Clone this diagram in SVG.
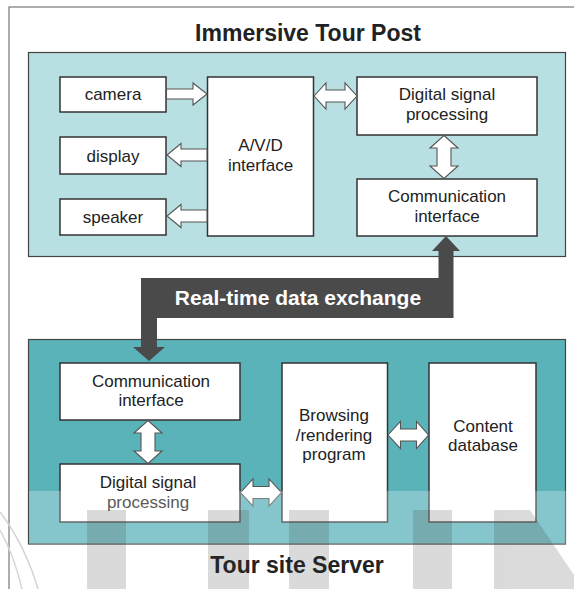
<svg xmlns="http://www.w3.org/2000/svg" width="574" height="589" viewBox="0 0 574 589">
<style>
.frame{fill:#fff;stroke:#777;stroke-width:1.2}
.panelTop{fill:#b8e0e2;stroke:#444;stroke-width:1.2}
.panelBot{fill:#5bb3ba;stroke:#444;stroke-width:1.2}
.box{fill:#fff;stroke:#333;stroke-width:1.5}
.hollow{fill:#fff;stroke:#555;stroke-width:1.1;stroke-linejoin:miter}
.lbl{font-family:"Liberation Sans",Arial,sans-serif;font-size:17px;fill:#222;text-anchor:middle}
.title{font-family:"Liberation Sans",Arial,sans-serif;font-size:23px;font-weight:bold;fill:#222;text-anchor:middle}
.band{font-family:"Liberation Sans",Arial,sans-serif;font-size:21px;font-weight:bold;fill:#fff;text-anchor:middle}
</style>
<rect class="frame" x="9" y="7" width="575" height="600"/>
<text class="title" x="308" y="41">Immersive Tour Post</text>
<rect id="post" class="panelTop" x="28.5" y="52.5" width="537" height="204"/>
<rect id="server" class="panelBot" x="28.5" y="339.5" width="537" height="204.5"/>

<g id="camera"><rect class="box" x="60" y="77" width="106" height="35"/><text class="lbl" x="113" y="100">camera</text></g>
<g id="display"><rect class="box" x="60" y="137" width="106" height="37"/><text class="lbl" x="113" y="161.5">display</text></g>
<g id="speaker"><rect class="box" x="60" y="199" width="106" height="36"/><text class="lbl" x="113" y="223">speaker</text></g>
<g id="avd"><rect class="box" x="207.5" y="77" width="106" height="159"/><text class="lbl" x="260.5" y="151">A/V/D</text><text class="lbl" x="260.5" y="170.5">interface</text></g>
<g id="dsp-top"><rect class="box" x="357" y="77" width="180" height="58"/><text class="lbl" x="447" y="100.25">Digital signal</text><text class="lbl" x="447" y="119.75">processing</text></g>
<g id="comm-top"><rect class="box" x="357" y="179" width="180" height="57"/><text class="lbl" x="447" y="202.25">Communication</text><text class="lbl" x="447" y="221.75">interface</text></g>

<g id="comm-bot"><rect class="box" x="60" y="363" width="180" height="57"/><text class="lbl" x="151" y="386.75">Communication</text><text class="lbl" x="151" y="406.25">interface</text></g>
<g id="dsp-bot"><rect class="box" x="60" y="464" width="180" height="58"/><text class="lbl" x="148" y="488.25">Digital signal</text><text class="lbl" x="148" y="507.75">processing</text></g>
<g id="browsing"><rect class="box" x="282" y="363" width="105.5" height="159"/><text class="lbl" x="334" y="421">Browsing</text><text class="lbl" x="334" y="440.5">/rendering</text><text class="lbl" x="334" y="460">program</text></g>
<g id="content"><rect class="box" x="429" y="363" width="107" height="159"/><text class="lbl" x="483" y="431.75">Content</text><text class="lbl" x="483" y="451.25">database</text></g>

<g id="connectors">
<path class="hollow" d="M166.5,89 L193,89 L193,83 L207,94 L193,105 L193,99 L166.5,99 Z"/>
<path class="hollow" d="M207,149 L181,149 L181,143.5 L167,155 L181,166.5 L181,161 L207,161 Z"/>
<path class="hollow" d="M207,210 L181,210 L181,204.5 L167,216 L181,227.5 L181,222 L207,222 Z"/>
<path class="hollow" d="M314,96 L326,83 L326,90 L345,90 L345,83 L357,96 L345,109 L345,102 L326,102 L326,109 Z"/>
<path class="hollow" d="M444,135.5 L458,148 L451,148 L451,166 L458,166 L444,178.5 L430,166 L437,166 L437,148 L430,148 Z"/>
<path class="hollow" d="M148,420.5 L162,433 L155,433 L155,451 L162,451 L148,463.5 L134,451 L141,451 L141,433 L134,433 Z"/>
<path class="hollow" d="M240.5,492.5 L253,479 L253,486.5 L269,486.5 L269,479 L281.5,492.5 L269,506 L269,498.5 L253,498.5 L253,506 Z"/>
<path class="hollow" d="M388,435 L400.5,421.5 L400.5,429 L416.5,429 L416.5,421.5 L428.5,435 L416.5,448.5 L416.5,441 L400.5,441 L400.5,448.5 Z"/>
<path id="exchange" fill="#4a4a4a" d="M446,236 L460,251 L453.5,251 L453.5,318 L157,318 L157,347 L165,347 L149,361 L133,347 L141,347 L141,278 L438.5,278 L438.5,251 L432,251 Z"/>
<text class="band" x="298" y="305">Real-time data exchange</text>
</g>

<text class="title" x="297" y="573">Tour site Server</text>

<g id="watermark">
<rect x="29" y="491" width="537" height="53" fill="#fff" opacity="0.25"/>
<g fill="#3a3a3a" opacity="0.18">
<rect x="87" y="510" width="39" height="79"/>
<rect x="208" y="510" width="41" height="79"/>
<rect x="289" y="510" width="40" height="79"/>
<rect x="413" y="510" width="39" height="79"/>
<polygon points="494,510 530,510 574,575 574,589 494,589"/>
</g>
<g fill="none" stroke="#d4d4d4" stroke-width="1.5">
<path d="M0,512 Q25,545 38,589"/>
<path d="M0,530 Q14,555 22,589"/>
</g>
</g>
</svg>
